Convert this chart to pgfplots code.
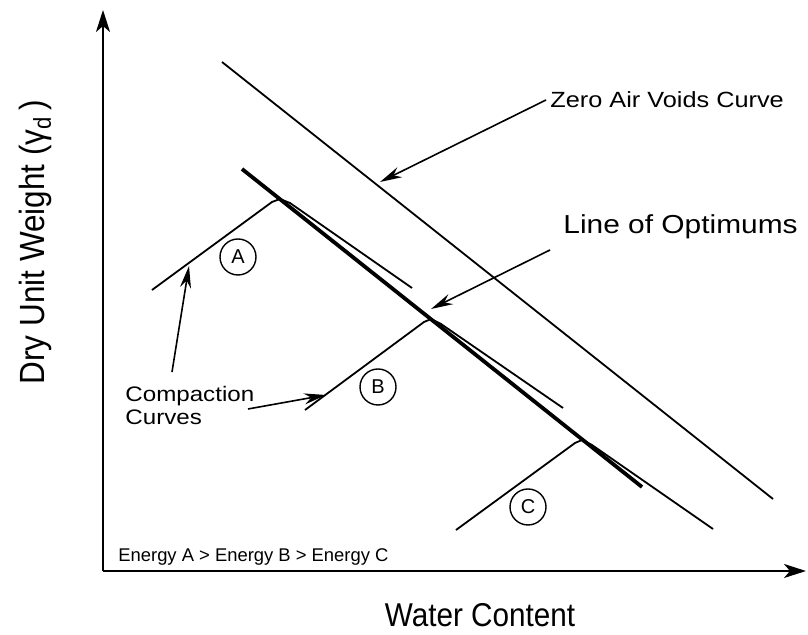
\documentclass[border=0pt]{standalone}
\usepackage{fontspec}
\setmainfont{Liberation Sans}
\newfontfamily\narrowfont[FakeStretch=0.9]{Liberation Sans}
\newfontfamily\widefont[FakeStretch=1.15]{Liberation Sans}
\usepackage{pgfplots}
\pgfplotsset{compat=1.18}
\usetikzlibrary{arrows.meta}

\begin{document}
\begin{tikzpicture}
\useasboundingbox (-51.5pt,-32pt) rectangle (352.5pt,285.5pt);
\begin{axis}[
  x=0.5pt, y=0.5pt,
  xmin=103, xmax=806, ymin=64, ymax=625,
  enlargelimits=false,
  axis lines=left,
  xtick=\empty, ytick=\empty,
  axis line style={line width=1.1pt, -{Stealth[length=11pt,width=7pt,inset=3pt]}},
  clip=false, anchor=south west, at={(0,0)},
]
% Zero air voids curve
\addplot[black, line width=0.9pt] coordinates {(222,573) (773,136)};
% Line of optimums
\addplot[black, line width=1.9pt] coordinates {(242,466) (642,148)};
% Compaction curve A
\addplot[black, line width=0.9pt] coordinates {(152,345) (272,433) (280,436) (290,432) (412,347)};
% Compaction curve B
\addplot[black, line width=0.9pt] coordinates {(305,225) (424,313) (431,316) (441,311) (563,227)};
% Compaction curve C
\addplot[black, line width=0.9pt] coordinates {(456,105) (575,192) (582,195) (592,190) (713,106)};

% circled labels
\node[draw, circle, minimum size=18pt, inner sep=0pt, line width=0.7pt, font=\fontsize{10}{10}\selectfont] at (axis cs:238,378) {A};
\node[draw, circle, minimum size=18pt, inner sep=0pt, line width=0.7pt, font=\fontsize{10}{10}\selectfont] at (axis cs:378,248) {B};
\node[draw, circle, minimum size=18pt, inner sep=0pt, line width=0.7pt, font=\fontsize{10}{10}\selectfont] at (axis cs:528,128) {C};

% annotations
\node[anchor=base west, inner sep=0pt, font=\widefont\fontsize{11}{11}\selectfont] at (axis cs:550,527) {Zero Air Voids Curve};
\node[anchor=base west, inner sep=0pt, font=\widefont\fontsize{13}{13}\selectfont] at (axis cs:563,401) {Line of Optimums};
\node[anchor=base west, inner sep=0pt, font=\widefont\fontsize{10.5}{10.5}\selectfont] at (axis cs:125,233) {Compaction};
\node[anchor=base west, inner sep=0pt, font=\widefont\fontsize{10.5}{10.5}\selectfont] at (axis cs:125,210) {Curves};
\node[anchor=base west, inner sep=0pt, font=\fontsize{9.2}{9.2}\selectfont] at (axis cs:118,73) {Energy A > Energy B > Energy C};

% arrows
\draw[line width=0.8pt, -{Stealth[length=11pt,width=5.5pt]}] (axis cs:546,535) -- (axis cs:380,453);
\draw[line width=0.8pt, -{Stealth[length=11pt,width=5.5pt]}] (axis cs:550,385) -- (axis cs:431,326);
\draw[line width=0.8pt, -{Stealth[length=11pt,width=5.5pt]}] (axis cs:172,263) -- (axis cs:189,369);
\draw[line width=0.8pt, -{Stealth[length=11pt,width=5.5pt]}] (axis cs:248,226) -- (axis cs:326,240);

% axis labels
\node[anchor=base, inner sep=0pt, font=\narrowfont\fontsize{16.5}{16.5}\selectfont] at (axis cs:480,8) {Water Content};
\node[anchor=base, rotate=90, inner sep=0pt, font=\narrowfont\fontsize{17.5}{17.5}\selectfont] at (axis cs:45,393) {Dry Unit Weight (γ\textsubscript{d}\,)};
\end{axis}
\end{tikzpicture}
\end{document}
